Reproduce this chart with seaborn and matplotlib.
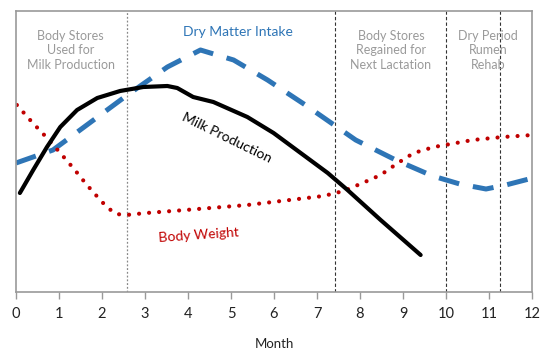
import numpy as np
import pandas as pd
import seaborn as sns
import matplotlib.pyplot as plt

# values (month, relative level 0..281)
milk_month = [0.09, 0.40, 0.72, 1.03, 1.42, 1.89, 2.42, 2.96, 3.52, 3.75, 4.12, 4.59, 5.38, 5.99,
              6.62, 7.25, 7.71, 8.48, 9.41]
milk_level = [99, 122, 145, 165, 182, 194, 201, 205, 206, 204, 195, 190, 175, 159,
              139, 119, 102, 72, 37]

dmi_month = [0.0, 0.86, 1.49, 2.59, 3.52, 4.29, 5.06, 5.85, 6.73, 7.9, 8.83, 9.69, 10.32, 10.93, 11.39, 12.02]
dmi_level = [129, 142, 162, 197, 225, 242, 232, 212, 187, 152, 132, 116, 108, 103, 107, 114]

bw_month = [0.02, 0.37, 0.70, 1.03, 1.35, 1.65, 1.98, 2.14, 2.33, 2.56, 3.03, 3.94, 5.38, 7.15,
            7.62, 8.06, 8.48, 8.88, 9.25, 9.72, 10.62, 11.32, 12.02]
bw_level = [187, 170, 155, 139, 123, 107, 91, 84, 78, 77, 79, 82, 87, 96,
            101, 109, 117, 129, 139, 145, 152, 155, 157]

phase_bounds = [2.59, 7.43, 10.0, 11.26]
month_ticks = list(range(0, 13))

sns.set_style("white")
plt.rcParams['font.family'] = ['Lato', 'DejaVu Sans']

fig = plt.figure(figsize=(5.44, 3.52), dpi=100)
ax = fig.add_axes([16 / 544, 60 / 352, 516 / 544, 281 / 352])

df_milk = pd.DataFrame({"month": milk_month, "level": milk_level})
df_dmi = pd.DataFrame({"month": dmi_month, "level": dmi_level})
df_bw = pd.DataFrame({"month": bw_month, "level": bw_level})

sns.lineplot(data=df_dmi, x="month", y="level", color="#2e75b6", linewidth=3.6,
             ax=ax, estimator=None, sort=False)
ax.lines[-1].set_dashes([4.2, 2.8])
sns.lineplot(data=df_bw, x="month", y="level", color="#c00000", linewidth=3.0,
             ax=ax, estimator=None, sort=False)
ax.lines[-1].set_dashes([0.01, 2.4])
ax.lines[-1].set_dash_capstyle("round")
sns.lineplot(data=df_milk, x="month", y="level", color="black", linewidth=3.0,
             ax=ax, estimator=None, sort=False)

ax.axvline(phase_bounds[0], color="#888888", linewidth=0.9, linestyle=(0, (1.5, 1.5)), zorder=0)
for b in phase_bounds[1:]:
    ax.axvline(b, color="#333333", linewidth=0.8, linestyle=(0, (3, 2)), zorder=0)

ax.set_xlim(0, 12)
ax.set_ylim(0, 281)
ax.set_xticks(month_ticks)
ax.set_yticks([])
ax.set_ylabel("")
ax.set_xlabel("Month", fontsize=9.5, labelpad=12, color="#222222")
ax.tick_params(axis="x", bottom=True, direction="out", length=5, width=1,
               color="#999999", labelsize=10.5, pad=6, labelcolor="#222222")
for s in ax.spines.values():
    s.set_color("#999999")
    s.set_linewidth(1.2)

gray = "#9a9a9a"
ax.text(1.27, 262, "Body Stores\nUsed for\nMilk Production", ha="center", va="top",
        fontsize=9, color=gray, linespacing=1.25)
ax.text(8.72, 262, "Body Stores\nRegained for\nNext Lactation", ha="center", va="top",
        fontsize=9, color=gray, linespacing=1.25)
ax.text(10.98, 262, "Dry Period\nRumen\nRehab", ha="center", va="top",
        fontsize=9, color=gray, linespacing=1.25)
ax.text(5.15, 260, "Dry Matter Intake", ha="center", va="center",
        fontsize=10, color="#2e75b6")
ax.text(4.9, 154, "Milk Production", ha="center", va="center",
        fontsize=10, color="black", rotation=-26)
ax.text(4.25, 57, "Body Weight", ha="center", va="center",
        fontsize=10, color="#c00000", rotation=4)

fig.savefig("out.png", dpi=100)
